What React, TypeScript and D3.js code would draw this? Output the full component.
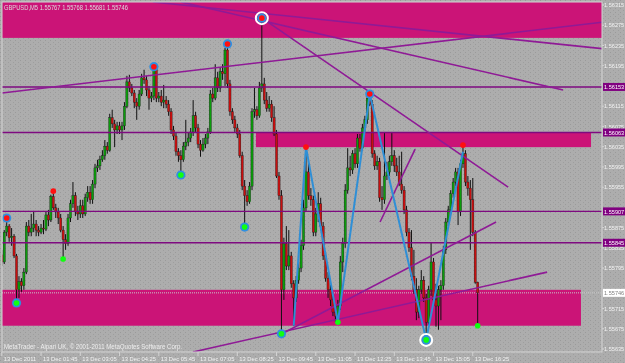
import React from 'react';
import * as d3 from 'd3';

// ---- data (prices in points, 1 point = 0.00001) ----
const openPts = [155821,155807,155866,155878,155855,155858,155819,155752,155768,155760,155787,155878,155866,155874,155882,155870,155866,155874,155872,155900,155890,155936,155914,155906,155894,155870,155851,155843,155894,155922,155938,155906,155902,155918,155902,155934,155945,155930,155961,155993,155997,156009,156017,156036,156028,156092,156080,156068,156076,156068,156076,156115,156163,156151,156141,156123,156115,156139,156171,156167,156147,156131,156135,156187,156131,156135,156123,156127,156119,156104,156068,156056,156025,156017,156009,156036,156044,156052,156064,156096,156072,156040,156028,156040,156052,156064,156139,156131,156171,156151,156183,156179,156226,156159,156104,156088,156072,156060,156017,155957,155938,155926,155957,156104,156108,156096,156151,156159,156127,156111,156119,156092,156060,155977,155938,155752,155843,155799,155819,155764,155736,155771,155795,155839,155914,155985,155938,155930,155866,155902,155922,155878,155819,155775,155752,155732,155708,155700,155720,155807,155843,155949,155993,155989,156021,156001,156052,156032,156072,156088,156131,156119,156021,155997,156005,155934,155930,155977,155985,156005,156017,155997,155985,155961,155949,155910,155866,155835,155779,155752,155708,155752,155771,155736,155688,155752,155807,155732,155720,155752,155760,155831,155886,155910,155942,155965,155985,155906,156001,156021,155965,155953,155930,155866,155767];
const highPts = [155831,155870,155894,155882,155874,155862,155823,155779,155775,155795,155886,155890,155902,155906,155890,155878,155882,155890,155906,155910,155940,155947,155922,155914,155902,155878,155862,155902,155930,155965,155945,155918,155930,155930,155942,155957,155957,155969,156001,156009,156017,156028,156048,156044,156100,156108,156088,156084,156084,156084,156123,156175,156177,156159,156147,156131,156147,156179,156187,156175,156155,156143,156193,156189,156143,156147,156157,156135,156127,156111,156076,156064,156032,156028,156044,156088,156064,156072,156127,156104,156080,156048,156052,156060,156072,156147,156151,156198,156183,156191,156198,156230,156238,156167,156111,156096,156080,156068,156025,155969,155949,155965,156111,156151,156115,156163,156289,156171,156143,156135,156127,156115,156068,155985,155949,155855,155878,155870,155827,155771,155779,155807,155851,155930,156034,156009,155953,155938,155914,155945,155934,155886,155827,155787,155764,155740,155716,155732,155819,155855,155961,156032,156017,156028,156032,156060,156060,156080,156096,156135,156139,156127,156028,156017,156013,155957,156064,156005,156017,156064,156028,156013,156017,156025,155957,155918,155874,155870,155831,155775,155760,155791,155779,155744,155760,155845,155815,155764,155760,155771,155839,155894,155918,155949,155973,155993,155993,156009,156038,156028,155977,155969,155973,155870,155768];
const lowPts = [155799,155803,155858,155847,155839,155815,155726,155736,155748,155752,155783,155858,155858,155866,155858,155858,155862,155862,155868,155878,155886,155910,155894,155882,155866,155813,155831,155839,155886,155914,155898,155890,155894,155894,155898,155926,155922,155922,155953,155985,155989,156005,156009,156021,156025,156072,156034,156060,156060,156048,156068,156111,156143,156135,156111,156088,156108,156135,156159,156135,156108,156123,156127,156123,156123,156115,156111,156111,156096,156060,156048,156017,156005,155979,156005,156028,156036,156044,156056,156064,156032,156015,156025,156032,156040,156060,156123,156127,156143,156143,156167,156155,156151,156096,156080,156064,156052,156013,155949,155876,155918,155922,155949,156092,156088,156092,156143,156119,156104,156104,156084,156056,155973,155930,155665,155732,155791,155791,155756,155681,155728,155764,155787,155831,155906,155930,155918,155858,155858,155886,155870,155811,155768,155736,155720,155700,155688,155688,155712,155787,155835,155942,155977,155981,155993,155993,156025,156028,156064,156080,156115,156013,155989,155989,155926,155910,155922,155969,155977,155997,155985,155977,155957,155942,155902,155858,155827,155771,155744,155692,155696,155744,155728,155653,155681,155740,155724,155679,155673,155692,155752,155823,155878,155902,155934,155957,155880,155898,155993,155957,155938,155831,155858,155764,155681];
const closePts = [155807,155866,155878,155855,155858,155819,155752,155768,155760,155787,155878,155866,155874,155882,155870,155866,155874,155872,155900,155890,155936,155914,155906,155894,155870,155851,155843,155894,155922,155938,155906,155902,155918,155902,155934,155945,155930,155961,155993,155997,156009,156017,156036,156028,156092,156080,156068,156076,156068,156076,156115,156163,156151,156141,156123,156115,156139,156171,156167,156147,156131,156135,156187,156131,156135,156123,156127,156119,156104,156068,156056,156025,156017,156009,156036,156044,156052,156064,156096,156072,156040,156028,156040,156052,156064,156139,156131,156171,156151,156183,156179,156226,156159,156104,156088,156072,156060,156017,155957,155938,155926,155957,156104,156108,156096,156151,156159,156127,156111,156119,156092,156060,155977,155938,155752,155843,155799,155819,155764,155736,155771,155795,155839,155914,155985,155938,155930,155866,155902,155922,155878,155819,155775,155752,155732,155708,155700,155720,155807,155843,155949,155993,155989,156021,156001,156052,156032,156072,156088,156131,156119,156021,155997,156005,155934,155930,155977,155985,156005,156017,155997,155985,155961,155949,155910,155866,155835,155779,155752,155708,155752,155771,155736,155688,155752,155807,155732,155720,155752,155760,155831,155886,155910,155942,155965,155985,155906,156001,156021,155965,155953,155930,155866,155767,155746];

const titleText = 'GBPUSD,M5  1.55767 1.55768 1.55681 1.55746';
const creditText = 'MetaTrader - Alpari UK, \u00A9 2001-2011 MetaQuotes Software Corp.';

const timeLabelBars = [0, 16, 32, 48, 64, 80, 96, 112, 128, 144, 160, 176, 192];
const timeLabels = ['13 Dec 2011', '13 Dec 01:45', '13 Dec 03:05', '13 Dec 04:25', '13 Dec 05:45', '13 Dec 07:05', '13 Dec 08:25', '13 Dec 09:45', '13 Dec 11:05', '13 Dec 12:25', '13 Dec 13:45', '13 Dec 15:05', '13 Dec 16:25'];

// visible price scale labels (those hidden behind level boxes are omitted)
const priceTicks = [1.56315, 1.56275, 1.56235, 1.56195, 1.56115, 1.56075, 1.56035, 1.55995, 1.55955, 1.55875, 1.55835, 1.55795, 1.55715, 1.55675, 1.55635];

const levelPrices = [1.56153, 1.56063, 1.55907, 1.55845];
const bidPrice = 1.55746;

// rectangles (price zones): start/end in bar positions
const zoneTop = [1.5634, 1.56062, 1.55752];
const zoneBottom = [1.5625, 1.56034, 1.55681];
const zoneStart = [-2, 103.6, -2];
const zoneEnd = [250, 240.2, 236.1];

// trend lines
const trendFromBar = [0.1, 61.6, 73, 106.1, 77.9, 114.2, 154.2];
const trendFromPrice = [1.56141, 1.56321, 1.56321, 1.56289, 1.55629, 1.55665, 1.55886];
const trendToBar = [250, 250, 228.8, 206.4, 222.3, 201.5, 168.5];
const trendToPrice = [1.56284, 1.56226, 1.56147, 1.55955, 1.55787, 1.55886, 1.5603];

// zigzag
const zigBars = [119, 124, 137, 150, 173, 188];
const zigPrices = [1.55681, 1.56034, 1.55688, 1.56139, 1.55653, 1.56025];

// fractals
const fracBars = [2, 21, 62, 92, 106, 124, 150, 188, 6, 25, 73, 99, 114, 137, 173, 194];
const fracUp = [1, 1, 1, 1, 1, 1, 1, 1, 0, 0, 0, 0, 0, 0, 0, 0];
const fracHalo = [1, 0, 1, 1, 1, 0, 1, 0, 1, 0, 1, 1, 1, 0, 1, 0];
const fracRing = [0, 0, 0, 0, 1, 0, 0, 0, 0, 0, 0, 0, 0, 0, 1, 0];

const W = 625;
const H = 363;
const P = { left: 2, top: 2, right: 602, bottom: 352 };

export default function App() {
  const n = closePts.length;
  const x = d3.scaleLinear().domain([0, n - 1]).range([1.8, 477.7]);
  const y = d3.scaleLinear().domain([1.56315, 1.55635]).range([5, 349]);
  const pt = (v: number) => v / 100000;
  const font = 'Liberation Sans, Arial, sans-serif';
  const fmt = d3.format('.5f');

  const candles = d3.range(n).map((i) => {
    const o = pt(openPts[i]), h = pt(highPts[i]), l = pt(lowPts[i]), c = pt(closePts[i]);
    const cx = x(i);
    const yt = y(Math.max(o, c));
    const yb = y(Math.min(o, c));
    const bull = c >= o;
    return (
      <g key={i}>
        <line x1={cx} x2={cx} y1={y(h)} y2={y(l)} stroke="#101010" strokeWidth={1} />
        <rect x={cx - 1.1} y={yt} width={2.2} height={Math.max(0.8, yb - yt)}
          fill={bull ? '#0c9c0c' : '#c81010'} stroke="#1a1a1a" strokeWidth={0.35} />
      </g>
    );
  });

  const zig = d3.line<number>().x((d, k) => x(zigBars[k])).y((d) => y(d));

  return (
    <svg width={W} height={H} style={{ position: 'fixed', left: 0, top: 0, display: 'block' }}
      xmlns="http://www.w3.org/2000/svg">
      <defs>
        <pattern id="speck" width="5" height="4" patternUnits="userSpaceOnUse">
          <rect width="5" height="4" fill="#adadad" />
          <rect x="0" y="0" width="1" height="1" fill="#9a9a9a" />
          <rect x="3" y="2" width="1" height="1" fill="#9e9e9e" />
        </pattern>
        <clipPath id="plotclip">
          <rect x={P.left} y={P.top} width={P.right - P.left} height={P.bottom - P.top} />
        </clipPath>
      </defs>
      <rect x={0} y={0} width={W} height={H} fill="url(#speck)" />

      <g clipPath="url(#plotclip)">
        {zoneTop.map((t, k) => (
          <rect key={'z' + k} x={x(zoneStart[k])} y={y(t)} width={x(zoneEnd[k]) - x(zoneStart[k])}
            height={y(zoneBottom[k]) - y(t)} fill="#cb1477" />
        ))}
        <line x1={P.left} x2={P.right} y1={y(bidPrice)} y2={y(bidPrice)} stroke="#c8c8c8" strokeWidth={1} strokeDasharray="1,1" />
        {candles}
        {levelPrices.map((p, k) => (
          <line key={'h' + k} x1={P.left} x2={P.right} y1={y(p)} y2={y(p)} stroke="#7e0a80" strokeWidth={1.4} />
        ))}
        {trendFromBar.map((b, k) => (
          <line key={'t' + k} x1={x(b)} y1={y(trendFromPrice[k])} x2={x(trendToBar[k])} y2={y(trendToPrice[k])}
            stroke="#8f1a96" strokeWidth={1.6} />
        ))}
        <path d={zig(zigPrices) || ''} fill="none" stroke="#2f8fd6" strokeWidth={2} />
        {fracBars.map((b, k) => {
          const price = fracUp[k] ? pt(highPts[b]) : pt(lowPts[b]);
          const cx = x(b), cy = y(price);
          return (
            <g key={'f' + k}>
              {fracRing[k] ? <circle cx={cx} cy={cy} r={6} fill="none" stroke="#ffffff" strokeWidth={2} /> : null}
              {fracHalo[k] ? <circle cx={cx} cy={cy} r={4.6} fill="#2f8fe0" /> : null}
              <circle cx={cx} cy={cy} r={2.8} fill={fracUp[k] ? '#ff1010' : '#10ff10'} />
            </g>
          );
        })}
      </g>

      {/* frame */}
      <rect x={P.left} y={P.top} width={P.right - P.left} height={P.bottom - P.top} fill="none" stroke="#d4d4d4" strokeWidth={1} />

      {/* price axis */}
      {priceTicks.map((p, k) => (
        <g key={'p' + k}>
          <line x1={P.right} x2={P.right + 2} y1={y(p)} y2={y(p)} stroke="#d4d4d4" />
          <text x={604} y={y(p) + 2.2} fontFamily={font} fontSize={5.6} fill="#f2f2f2">{fmt(p)}</text>
        </g>
      ))}
      {levelPrices.map((p, k) => (
        <g key={'pl' + k}>
          <rect x={603} y={y(p) - 4} width={22} height={8} fill="#800080" />
          <text x={604} y={y(p) + 2.2} fontFamily={font} fontSize={5.6} fill="#ffffff">{fmt(p)}</text>
        </g>
      ))}
      <rect x={603} y={y(bidPrice) - 4} width={22} height={8} fill="#ffffff" />
      <text x={604} y={y(bidPrice) + 2.2} fontFamily={font} fontSize={5.6} fill="#808080">{fmt(bidPrice)}</text>

      {/* time axis */}
      {timeLabelBars.map((b, k) => (
        <g key={'tl' + k}>
          <line x1={x(b)} x2={x(b)} y1={P.bottom} y2={P.bottom + 4} stroke="#d4d4d4" />
          <text x={x(b) + 2} y={360.5} fontFamily={font} fontSize={5.8} fill="#f2f2f2">{timeLabels[k]}</text>
        </g>
      ))}

      <text x={4} y={9.5} fontFamily={font} fontSize={6.5} fill="#dcdcdc"
        textLength={124} lengthAdjust="spacingAndGlyphs">{titleText}</text>
      <text x={4} y={349} fontFamily={font} fontSize={6.5} fill="#eeeeee"
        textLength={178} lengthAdjust="spacingAndGlyphs">{creditText}</text>
    </svg>
  );
}
